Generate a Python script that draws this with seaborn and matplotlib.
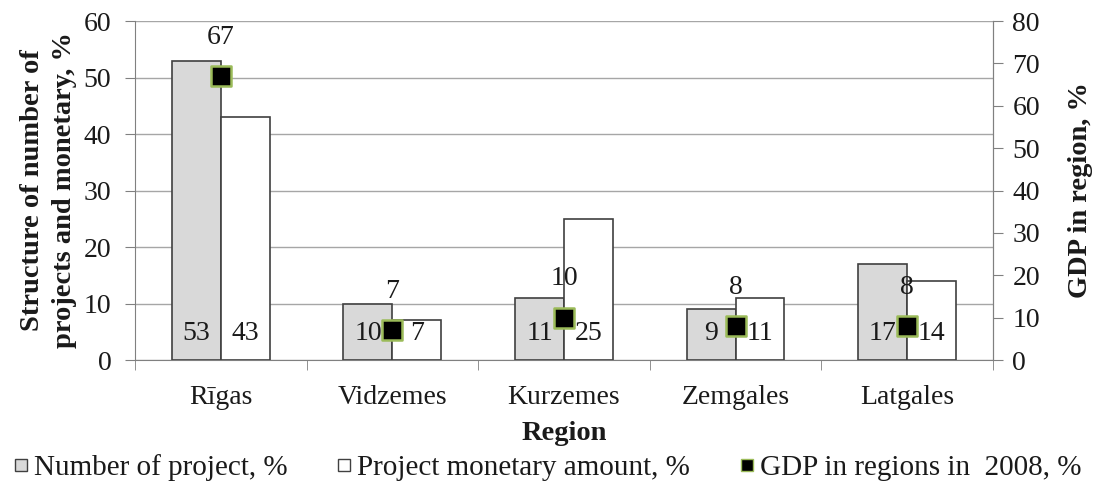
import pandas as pd
import numpy as np
import seaborn as sns
import matplotlib.pyplot as plt
from matplotlib.lines import Line2D

regions = ["Rīgas", "Vidzemes", "Kurzemes", "Zemgales", "Latgales"]
num_projects = [53, 10, 11, 9, 17]
monetary = [43, 7, 25, 11, 14]
gdp = [67, 7, 10, 8, 8]

sns.set_style("white")
plt.rcParams['font.family'] = ['Liberation Serif', 'DejaVu Serif']
FS = 20
TXT = "#1A1A1A"

df = pd.DataFrame({
    "Region": regions * 2,
    "value": num_projects + monetary,
    "series": ["Number of project, %"] * 5 + ["Project monetary amount, %"] * 5,
})

fig = plt.figure(figsize=(10.93, 4.91), dpi=100)
ax = fig.add_axes([0.1235, 0.2668, 0.785, 0.6904])

sns.barplot(data=df, x="Region", y="value", hue="series",
            palette=["#D9D9D9", "#FFFFFF"], width=0.57, dodge=True,
            edgecolor="#404040", linewidth=1.2, legend=False, ax=ax, zorder=3)

# value labels at the base of each bar
for cont in ax.containers:
    for p in cont:
        ax.text(p.get_x() + p.get_width() / 2, 4.7, f"{p.get_height():.0f}",
                ha="center", va="center", fontsize=FS, color=TXT, zorder=5)

ax.set_ylim(0, 60)
ax.set_yticks(range(0, 61, 10))
ax.set_xlim(-0.5, 4.5)
ax.yaxis.grid(True, color="#A6A6A6", linewidth=1)
ax.set_axisbelow(True)
ax.tick_params(axis="y", labelsize=FS, length=7, direction="out", color="#808080",
               left=True, labelcolor=TXT, pad=10)
ax.tick_params(axis="x", which="major", labelsize=FS, length=0, pad=18, labelcolor=TXT)
ax.set_xticks(np.arange(-0.5, 5, 1), minor=True)
ax.tick_params(axis="x", which="minor", length=7, direction="out", color="#808080", bottom=True)
ax.spines["top"].set_visible(False)
for s in ["left", "bottom", "right"]:
    ax.spines[s].set_color("#808080")
ax.set_ylabel("Structure of number of\nprojects and monetary, %", fontsize=20.5,
              fontweight="bold", labelpad=5, color=TXT, linespacing=1.35)
ax.set_xlabel("Region", fontsize=20.5, fontweight="bold", labelpad=8, color=TXT)

ax2 = ax.twinx()
sns.scatterplot(x=np.arange(5), y=gdp, marker="s", s=190, color="black",
                edgecolor="#9BBB59", linewidth=1.8, ax=ax2, zorder=6, legend=False)
for i, v in enumerate(gdp):
    ax2.annotate(f"{v}", (i, v), xytext=(0, 28), textcoords="offset points",
                 ha="center", va="center", fontsize=FS, color=TXT)
ax2.set_ylim(0, 80)
ax2.set_yticks(range(0, 81, 10))
ax2.tick_params(axis="y", labelsize=FS, length=7, direction="out", color="#808080",
                right=True, labelcolor=TXT, pad=7)
ax2.set_ylabel("GDP in region, %", fontsize=20.5, fontweight="bold", labelpad=20, color=TXT)
for s in ["top", "left", "bottom"]:
    ax2.spines[s].set_visible(False)
ax2.spines["right"].set_color("#808080")

handles = [
    Line2D([], [], linestyle="none", marker="s", markersize=8, markerfacecolor="#D9D9D9",
           markeredgecolor="#404040", markeredgewidth=1, label="Number of project, %"),
    Line2D([], [], linestyle="none", marker="s", markersize=8, markerfacecolor="#FFFFFF",
           markeredgecolor="#404040", markeredgewidth=1, label="Project monetary amount, %"),
    Line2D([], [], linestyle="none", marker="s", markersize=8, markerfacecolor="black",
           markeredgecolor="#9BBB59", markeredgewidth=1, label="GDP in regions in  2008, %"),
]
leg = fig.legend(handles=handles, loc="center", bbox_to_anchor=(0.501, 0.047), ncol=3,
                 frameon=False, fontsize=21, handlelength=0.5,
                 handletextpad=0.2, columnspacing=1.7)
for t in leg.get_texts():
    t.set_color(TXT)

fig.savefig("out.png", dpi=100)
